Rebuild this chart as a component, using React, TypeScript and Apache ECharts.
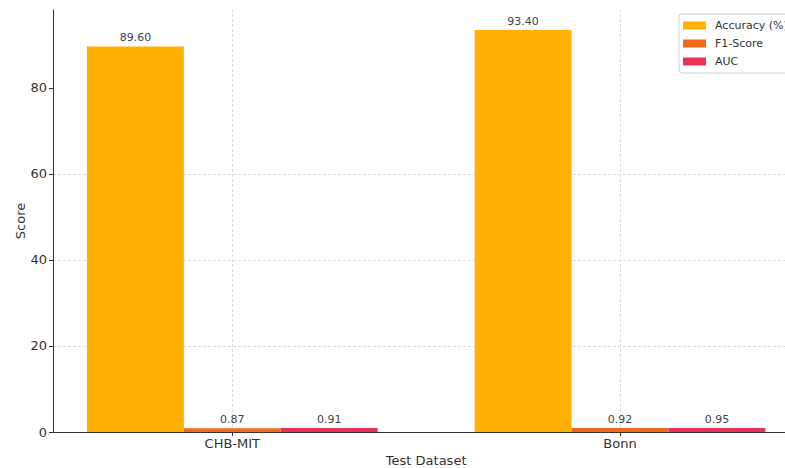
import React, { useEffect, useRef } from "react";
import * as echarts from "echarts";

const categories = ["CHB-MIT", "Bonn"];
const seriesNames = ["Accuracy (%)", "F1-Score", "AUC"];
const accuracy = [89.6, 93.4];
const f1Score = [0.87, 0.92];
const auc = [0.91, 0.95];
const yTicks = [0, 20, 40, 60, 80];

const COLORS = ["#FFB000", "#F2691E", "#E8325A"];
const BAR_UNITS = 0.25;
const X_MIN = -0.4625;
const X_MAX = 1.4625;
const Y_MAX = 98.07;
const W = 785;
const H = 468;
const GRID_LEFT = 53;
const PLOT_W = 746.3;
const FONT = "DejaVu Sans";

export default function App() {
  const ref = useRef<HTMLDivElement>(null);
  useEffect(() => {
    if (!ref.current) return;
    const chart = echarts.init(ref.current, undefined, { renderer: "svg" });
    const barPx = (BAR_UNITS * PLOT_W) / (X_MAX - X_MIN);
    const values = [accuracy, f1Score, auc];
    const series: any[] = values.map((vals, si) => ({
      name: seriesNames[si],
      type: "bar",
      barWidth: barPx,
      barGap: "-100%",
      itemStyle: { color: COLORS[si] },
      data: vals.map((v, ci) => [ci + (si - 1) * BAR_UNITS, v]),
      label: {
        show: true,
        position: "top",
        distance: 3,
        fontFamily: FONT,
        fontSize: 11,
        color: "#444",
        formatter: (p: any) => Number(p.value[1]).toFixed(2),
      },
      z: 2,
    }));
    series.push({
      name: "grid-x",
      type: "line",
      data: [],
      silent: true,
      z: 1,
      markLine: {
        silent: true,
        symbol: "none",
        z: 1,
        label: { show: false },
        lineStyle: { color: "#d4d4d4", type: [3, 2], width: 0.8 },
        data: categories.map((_, i) => ({ xAxis: i })),
      },
    });
    chart.setOption({
      animation: false,
      backgroundColor: "#fff",
      textStyle: { fontFamily: FONT },
      grid: {
        left: GRID_LEFT,
        width: PLOT_W,
        top: 10,
        bottom: H - 432,
        containLabel: false,
        outerBoundsMode: "none",
      },
      legend: {
        data: seriesNames,
        orient: "vertical",
        left: 679,
        top: 14,
        itemWidth: 23,
        itemHeight: 8,
        itemGap: 5,
        padding: [5, 6, 5, 4],
        borderColor: "#cccccc",
        borderWidth: 1,
        borderRadius: 3,
        backgroundColor: "#fff",
        icon: "rect",
        textStyle: { fontFamily: FONT, fontSize: 11, color: "#333", lineHeight: 13, padding: [0, 0, 0, 4] },
      },
      xAxis: {
        type: "value",
        min: X_MIN,
        max: X_MAX,
        name: "Test Dataset",
        nameLocation: "middle",
        nameGap: 22,
        nameMoveOverlap: false,
        nameTextStyle: { fontFamily: FONT, fontSize: 13, color: "#333" },
        axisLine: { show: true, onZero: false, lineStyle: { color: "#333", width: 1 } },
        axisTick: { show: true, length: 4, customValues: [0, 1], lineStyle: { color: "#333" } },
        axisLabel: {
          customValues: [0, 1],
          margin: 5,
          fontFamily: FONT,
          fontSize: 13,
          color: "#333",
          formatter: (v: number) => categories[Math.round(v)] ?? "",
        },
        splitLine: { show: false },
      },
      yAxis: {
        type: "value",
        min: 0,
        max: Y_MAX,
        interval: 20,
        name: "Score",
        nameLocation: "middle",
        nameGap: 26,
        nameMoveOverlap: false,
        nameTextStyle: { fontFamily: FONT, fontSize: 13, color: "#333" },
        axisLine: { show: true, onZero: false, lineStyle: { color: "#333", width: 1 } },
        axisTick: { show: true, length: 4, customValues: yTicks, lineStyle: { color: "#333" } },
        axisLabel: {
          customValues: yTicks,
          margin: 6,
          fontFamily: FONT,
          fontSize: 13,
          color: "#333",
        },
        splitLine: {
          show: true,
          showMinLine: false,
          showMaxLine: false,
          lineStyle: { color: "#d4d4d4", type: [3, 2], width: 0.8 },
        },
      },
      series,
    });
    return () => chart.dispose();
  }, []);
  return (
    <div
      ref={ref}
      style={{ position: "absolute", left: 0, top: 0, width: W, height: H }}
    />
  );
}
